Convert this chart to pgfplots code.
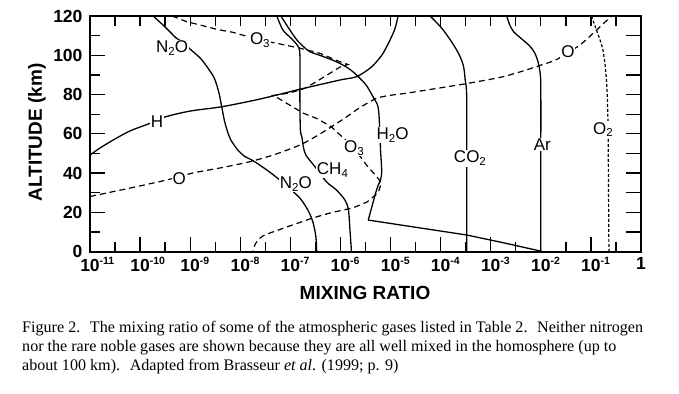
\documentclass[border=0pt]{standalone}
\usepackage{pgfplots}
\pgfplotsset{compat=1.18}
\usepackage{fontspec}
\setmainfont{Liberation Sans}
\newfontfamily\capfont{Liberation Serif}
\newcommand\sub[1]{\raisebox{-0.3ex}{\fontsize{11.5}{11.5}\selectfont #1}}
\newcommand\tl[1]{\textbf{10}\rlap{\raisebox{0.42em}{\fontsize{10.5}{10.5}\selectfont\bfseries #1}}}
\begin{document}
\begin{tikzpicture}
\path[use as bounding box] (0,0) rectangle (679pt,393pt);
\pgfplotsset{myframe/.style={
  at={(90pt,141.3pt)}, anchor=south west,
  scale only axis, width=551pt, height=235.7pt,
  xmin=-11, xmax=0, ymin=0, ymax=120,
  axis line style={line width=2pt},
  tick align=inside,
  every tick/.style={black, line width=1.3pt}}}
\begin{axis}[myframe,
  xtick={-11,-10,...,0},
  xticklabels={\tl{-11},\tl{-10},\tl{-9},\tl{-8},\tl{-7},\tl{-6},\tl{-5},\tl{-4},\tl{-3},\tl{-2},\tl{-1},\textbf{1}},
  minor xtick={-10.5,-9.5,...,-0.5},
  ytick={0,20,...,120},
  yticklabels={0,20,40,60,80,100,120},
  minor ytick={10,30,...,110},
  tick pos=left,
  major tick length=15pt, minor tick length=10pt,
  ticklabel style={font=\fontsize{17.5}{17.5}\selectfont\bfseries},
  yticklabel style={xshift=-4pt},
  xticklabel style={yshift=-2pt},
  no marks,
  every axis plot/.append style={black, line width=1.3pt},
]
% N2O
\addplot[smooth, tension=0.5] coordinates {(-9.74,120) (-9.50,114.4) (-9.28,108.8) (-9.16,106.8) (-8.96,102.2) (-8.80,98.6) (-8.66,94.0) (-8.52,88.4) (-8.43,81.3) (-8.37,73.7) (-8.31,66.0) (-8.24,60.0) (-8.19,56.9) (-8.05,51.8) (-7.91,48.5) (-7.75,46.4) (-7.47,41.6) (-7.25,37.3) (-7.01,32.0) (-6.81,27.3) (-6.65,21.2) (-6.55,15.1) (-6.49,7.5) (-6.475,0)};
% CH4
\addplot[smooth, tension=0.5] coordinates {(-7.27,120) (-7.15,112.9) (-6.99,108.8) (-6.85,104.7) (-6.81,100.2) (-6.81,77.2) (-6.80,62) (-6.77,58.4) (-6.74,53.3) (-6.69,49.2) (-6.51,43.3) (-6.28,35.6) (-6.08,31.4) (-5.91,26.3) (-5.84,21.2) (-5.81,11.0) (-5.78,0)};
% H2O
\addplot[smooth, tension=0.5] coordinates {(-7.19,120) (-7.01,112.9) (-6.87,107.8) (-6.73,104.2) (-6.61,101.8) (-6.37,99.6) (-6.08,96.7) (-5.85,93.5) (-5.68,90.0) (-5.49,84.9) (-5.35,78.9) (-5.25,73.8) (-5.22,64.5) (-5.20,51.8) (-5.18,39.1) (-5.28,31.4) (-5.445,16.1)};
\addplot coordinates {(-5.445,16.1) (-4.41,12.1) (-3.48,8.5) (-2.72,4.4) (-1.95,0)};
% H
\addplot[smooth, tension=0.5] coordinates {(-11,49.2) (-10.8,52.8) (-10.5,57.4) (-10.2,61.5) (-9.84,65.0) (-9.5,68.6) (-9.0,71.6) (-8.37,73.8) (-7.61,77.7) (-6.81,82.7) (-6.01,87.4) (-5.68,89.1) (-5.41,93.4) (-5.28,96.7) (-5.15,101.0) (-5.01,107.8) (-4.91,113.7) (-4.85,120)};
% CO2
\addplot[smooth, tension=0.5] coordinates {(-4.21,120) (-3.95,112.9) (-3.68,102.7) (-3.55,95.1) (-3.51,87.4) (-3.48,78.8) (-3.48,40) (-3.48,0)};
% Ar
\addplot[smooth, tension=0.5] coordinates {(-2.68,120) (-2.62,115.4) (-2.54,111.9) (-2.38,108.3) (-2.22,104.7) (-2.12,101.1) (-2.05,96.1) (-2.01,90.0) (-2.00,82.3) (-2.00,40) (-2.00,0)};
% O3
\addplot[dash pattern=on 6pt off 4pt, line width=1.2pt] coordinates {(-9.36,120) (-9.07,117.1) (-8.80,115.4) (-8.47,113.2) (-8.15,111.7) (-7.61,107.8) (-7.27,106.1) (-6.81,103.6) (-6.41,101.0) (-6.01,96.7) (-5.85,95.3) (-6.01,94.0) (-6.48,86.6) (-6.71,83.2) (-7.01,80.8) (-7.35,79.5) (-7.24,78.1) (-6.75,70.6) (-6.48,67.9) (-6.18,63.6) (-5.73,52.8) (-5.48,44.1) (-5.27,38.0) (-5.18,35.0) (-5.25,29.9) (-5.47,25.3) (-5.75,22.3) (-6.21,19.7) (-6.55,17.2) (-7.07,12.6) (-7.41,9.5) (-7.55,8.0) (-7.65,6.0) (-7.71,3.4) (-7.75,0)};
% O
\addplot[smooth, tension=0.4, dash pattern=on 6pt off 4pt, line width=1.2pt] coordinates {(-11.00,28.1) (-10.20,32.4) (-9.47,36.5) (-8.94,40.1) (-8.41,42.6) (-7.81,45.8) (-7.31,49.5) (-6.81,54.3) (-6.49,58.7) (-6.18,63.6) (-5.91,68.1) (-5.61,73.4) (-5.28,78.1) (-5.01,79.6) (-4.68,80.7) (-4.01,83.4) (-3.48,85.6) (-2.82,88.7) (-2.42,91.5) (-2.02,94.8) (-1.68,97.9) (-1.22,105.2) (-0.96,111.1) (-0.74,116.4) (-0.58,120)};
% O2
\addplot[smooth, tension=0.5, dash pattern=on 3pt off 2pt, line width=1.2pt] coordinates {(-0.99,120) (-0.89,112.9) (-0.76,102.7) (-0.69,87.4) (-0.66,67.1) (-0.65,36.5) (-0.64,0)};
% labels
\begin{scope}[every node/.style={fill=white, inner sep=1pt, font=\fontsize{17}{17}\selectfont}]
\node at (axis cs:-9.36,103.7) {N\sub{2}O};
\node at (axis cs:-7.61,107.8) {O\sub{3}};
\node at (axis cs:-9.66,66.0) {H};
\node at (axis cs:-9.22,37.3) {O};
\node at (axis cs:-6.89,34.5) {N\sub{2}O};
\node at (axis cs:-6.16,41.6) {CH\sub{4}};
\node at (axis cs:-5.73,52.8) {O\sub{3}};
\node at (axis cs:-4.96,59.4) {H\sub{2}O};
\node at (axis cs:-3.415,47.5) {CO\sub{2}};
\node at (axis cs:-1.97,54.6) {Ar};
\node at (axis cs:-1.46,101.9) {O};
\node at (axis cs:-0.76,62.2) {O\sub{2}};
\end{scope}
\end{axis}
\begin{axis}[myframe, xtick={-10.5,-10,...,-0.5}, xticklabels={}, ytick=\empty, xtick pos=right, major tick length=10pt]
\end{axis}
\begin{axis}[myframe, ytick={10,20,...,110}, yticklabels={}, xtick=\empty, ytick pos=right, major tick length=15pt]
\end{axis}
\node[font=\fontsize{19}{19}\selectfont\bfseries] at (365pt,100pt) {MIXING RATIO};
\node[font=\fontsize{19}{19}\selectfont\bfseries, rotate=90] at (37pt,260.5pt) {ALTITUDE (km)};
\begin{scope}[every node/.style={anchor=base west, inner sep=0pt, font=\capfont\fontsize{16.1}{16.1}\selectfont}]
\node at (22pt,60pt) {Figure 2.\hspace{0.6em}The mixing ratio of some of the atmospheric gases listed in Table 2.\hspace{0.6em}Neither nitrogen};
\node at (22pt,41pt) {nor the rare noble gases are shown because they are all well mixed in the homosphere (up to};
\node at (22pt,22pt) {about 100 km).\hspace{0.6em}Adapted from Brasseur \textit{et al}. (1999; p. 9)};
\end{scope}
\end{tikzpicture}
\end{document}
